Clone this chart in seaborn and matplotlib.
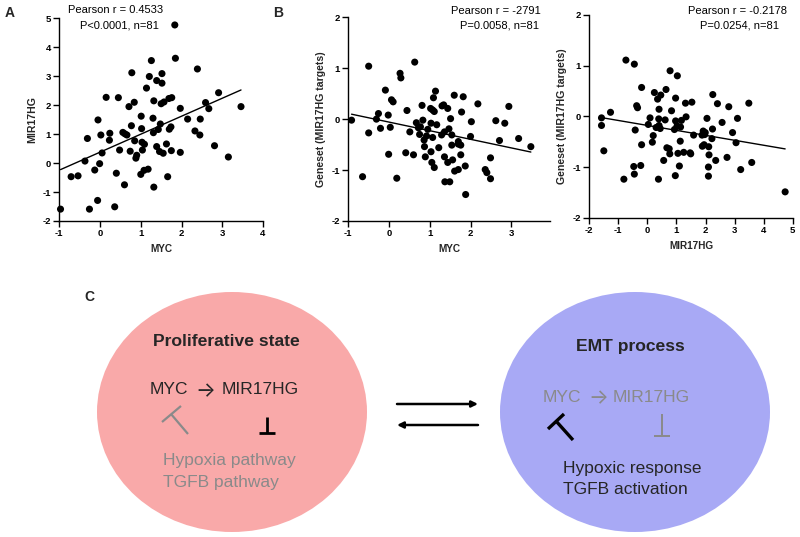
import matplotlib
matplotlib.use("Agg")
import matplotlib.pyplot as plt
from matplotlib.patches import Ellipse
import seaborn as sns
import pandas as pd

# panel A: MYC vs MIR17HG
a_myc = [1.835, 1.26, 1.85, 2.39, 0.78, 1.21, 1.52, 1.39, 1.52, 1.14, 0.15, 0.45, 1.32, 1.50,
         1.57, 1.69, 1.76, 0.84, 0.71, 1.97, 2.91, 2.59, 2.67, 3.46, -0.05, 1.01, 1.30, 2.15,
         2.46, 1.48, 1.74, 1.70, 1.02, 0.77, 0.56, 0.61, 0.66, 0.02, 0.24, -0.31, 0.23, 0.85,
         1.03, 1.09, 1.31, 1.43, 2.33, 2.45, 2.81, 3.15, 1.63, 1.39, 0.48, 0.05, 0.74, 0.90,
         0.88, 1.04, 1.46, 1.55, 1.75, 1.97, -0.01, -0.37, -0.13, 0.40, 1.00, 1.08, 1.18,
         -0.71, -0.54, 1.66, 1.32, 0.60, -0.06, 0.36, -0.26, -0.97]
a_mir = [4.77, 3.54, 3.62, 3.25, 3.12, 2.99, 3.09, 2.85, 2.76, 2.59, 2.27, 2.26, 2.15, 2.05,
         2.11, 2.23, 2.26, 2.10, 1.95, 1.89, 2.43, 2.09, 1.88, 1.95, 1.49, 1.62, 1.55, 1.52,
         1.52, 1.35, 1.25, 1.17, 1.19, 1.29, 1.06, 1.01, 0.97, 0.97, 1.03, 0.85, 0.79, 0.77,
         0.72, 0.65, 1.05, 1.16, 1.11, 0.97, 0.60, 0.21, 0.66, 0.57, 0.45, 0.35, 0.41, 0.27,
         0.17, 0.45, 0.40, 0.34, 0.43, 0.37, -0.02, 0.07, -0.24, -0.35, -0.39, -0.25, -0.21,
         -0.47, -0.44, -0.47, -0.83, -0.75, -1.29, -1.51, -1.59, -1.59]

# panel B: MYC vs geneset score
b_myc = [-0.92, -0.50, -0.50, -0.65, -0.31, -0.26, -0.21, -0.09, -0.02, 0.03, 0.06, 0.10, -0.01,
         0.19, 0.27, 0.29, 0.44, 0.41, 0.51, 0.60, 0.63, 0.67, 0.81, 0.83, 0.72, 0.75, 0.77,
         0.86, 0.87, 0.92, 0.89, 0.95, 1.02, 1.07, 1.09, 1.14, 1.11, 1.03, 1.07, 1.03, 1.05,
         1.11, 1.17, 1.22, 1.29, 1.30, 1.34, 1.36, 1.36, 1.37, 1.44, 1.44, 1.47, 1.49, 1.51,
         1.54, 1.54, 1.56, 1.60, 1.61, 1.70, 1.70, 1.70, 1.76, 1.76, 1.78, 1.82, 1.87, 1.88,
         2.00, 2.02, 2.18, 2.36, 2.40, 2.49, 2.49, 2.62, 2.71, 2.84, 2.94, 3.18, 3.48]
b_gene = [-0.02, 1.04, -0.27, -1.13, 0.00, 0.11, -0.18, 0.57, 0.08, -0.16, 0.38, 0.34, -0.69,
          -1.16, 0.90, 0.81, 0.17, -0.66, -0.25, -0.70, 1.12, -0.07, 0.27, -0.02, -0.17, -0.30,
          -0.15, -0.41, -0.54, -0.33, -0.74, -0.20, 0.21, 0.18, 0.42, 0.55, 0.15, -0.08, -0.36,
          -0.64, -0.85, -0.95, -0.11, -0.56, -0.31, 0.26, 0.28, -0.25, -0.74, -1.23, -0.85,
          0.21, -0.19, -1.23, 0.01, -0.31, -0.51, -0.80, 0.47, -1.02, -0.44, -0.49, -0.99,
          -0.51, -0.70, 0.14, 0.44, -0.92, -1.48, -0.34, -0.05, 0.30, -0.99, -1.05, -1.17,
          -0.76, -0.03, -0.42, -0.08, 0.25, -0.38, -0.54]

# panel C: MIR17HG vs geneset score
c_mir = [-1.58, -1.58, -1.50, -1.27, -0.81, -0.74, -0.45, -0.45, -0.47, -0.42, -0.37, -0.34,
         -0.23, -0.20, -0.20, 0.03, 0.09, 0.17, 0.20, 0.24, 0.30, 0.35, 0.38, 0.40, 0.39, 0.40,
         0.44, 0.46, 0.56, 0.61, 0.64, 0.67, 0.75, 0.77, 0.78, 0.83, 0.93, 0.96, 0.97, 0.97,
         1.02, 1.03, 1.05, 1.10, 1.13, 1.14, 1.17, 1.25, 1.31, 1.33, 1.47, 1.49, 1.53, 1.59,
         1.88, 1.89, 1.92, 1.95, 1.97, 1.99, 2.05, 2.11, 2.12, 2.10, 2.10, 2.22, 2.24, 2.25,
         2.35, 2.41, 2.57, 2.74, 2.80, 2.93, 3.05, 3.10, 3.21, 3.49, 3.59, 4.74]
c_gene = [-0.03, -0.18, -0.68, 0.08, -1.24, 1.11, 1.03, -1.14, -0.99, -0.27, 0.21, 0.17,
          -0.97, 0.57, -0.56, -0.16, -0.03, -0.51, -0.38, 0.47, -0.22, 0.34, -1.24, 0.14,
          -0.05, -0.18, -0.24, 0.42, -0.87, -0.07, 0.53, -0.62, -0.64, -0.74, 0.90, 0.11,
          -0.26, -1.17, 0.36, -0.09, -0.19, 0.80, -0.73, -0.98, -0.49, -0.21, -0.08, -0.71,
          0.26, -0.01, -0.72, -0.74, 0.28, -0.37, -0.37, -0.59, -0.29, -0.56, -0.36, -0.32,
          -0.04, -0.60, -0.76, -1.00, -1.18, -0.44, -0.25, 0.43, -0.87, 0.25, -0.12, -0.81,
          0.19, -0.32, -0.52, -0.04, -1.05, 0.26, -0.91, -1.49]

sns.set_theme(style="ticks")
plt.rcParams['font.family'] = ['Liberation Sans', 'DejaVu Sans']
plt.rcParams['axes.edgecolor'] = 'black'
plt.rcParams['axes.linewidth'] = 1.0

fig = plt.figure(figsize=(8, 5.37), dpi=100)
W, H = 800, 537


def px_axes(left, top, right, bottom):
    return fig.add_axes([left / W, 1 - bottom / H, (right - left) / W, (bottom - top) / H])


def scatter_panel(ax, x, y, xlab, ylab, xlim, ylim, xticks, yticks):
    df = pd.DataFrame({'x': x, 'y': y})
    sns.regplot(data=df, x='x', y='y', ax=ax, scatter=False, ci=None,
                line_kws={'color': 'black', 'lw': 1.0})
    sns.scatterplot(data=df, x='x', y='y', ax=ax, color='black', s=26,
                    edgecolor='none', clip_on=False, zorder=3)
    ax.set_xlim(*xlim)
    ax.set_ylim(*ylim)
    ax.set_xticks(xticks)
    ax.set_yticks(yticks)
    ax.set_xticklabels([str(t) for t in xticks], fontsize=6.8, fontweight='bold')
    ax.set_yticklabels([str(t) for t in yticks], fontsize=6.8, fontweight='bold')
    ax.tick_params(direction='out', length=4, width=1, pad=2, colors='black')
    ax.set_xlabel(xlab, fontsize=7.2, fontweight='bold', labelpad=4)
    ax.set_ylabel(ylab, fontsize=7.6, fontweight='bold', labelpad=4)
    ax.set_facecolor('none')
    sns.despine(ax=ax)


axA = px_axes(59.3, 18.3, 263, 221)
scatter_panel(axA, a_myc, a_mir, 'MYC', 'MIR17HG', (-1, 4), (-2, 5),
              [-1, 0, 1, 2, 3, 4], [-2, -1, 0, 1, 2, 3, 4, 5])
axB = px_axes(348.3, 17.3, 550, 221)
scatter_panel(axB, b_myc, b_gene, 'MYC', 'Geneset (MIR17HG targets)', (-1, 3.95), (-2, 2),
              [-1, 0, 1, 2, 3], [-2, -1, 0, 1, 2])
axC = px_axes(589.3, 15, 792.7, 217.7)
scatter_panel(axC, c_mir, c_gene, 'MIR17HG', 'Geneset (MIR17HG targets)', (-2, 5), (-2, 2),
              [-2, -1, 0, 1, 2, 3, 4, 5], [-2, -1, 0, 1, 2])

# overlay in pixel coordinates for text and the schematic
ov = fig.add_axes([0, 0, 1, 1], zorder=-1)
ov.set_xlim(0, W)
ov.set_ylim(H, 0)
ov.axis('off')

tkw = dict(fontsize=8, color='black', va='center')
ov.text(116, 10, 'Pearson r = 0.4533', ha='center', **tkw)
ov.text(119.5, 25, 'P<0.0001, n=81', ha='center', **tkw)
ov.text(541, 10.5, 'Pearson r = -2791', ha='right', **tkw)
ov.text(539, 25, 'P=0.0058, n=81', ha='right', **tkw)
ov.text(738, 10.5, 'Pearson r = -0.2178', ha='center', **tkw)
ov.text(740, 25, 'P=0.0254, n=81', ha='center', **tkw)

lkw = dict(fontsize=10, fontweight='bold', va='center', ha='left')
ov.text(5, 13, 'A', **lkw)
ov.text(273, 13, 'B', **lkw)
ov.text(84, 297, 'C', **lkw)

# schematic
ov.add_patch(Ellipse((232, 412), 270, 240, facecolor='#f9a9a9', edgecolor='none'))
ov.add_patch(Ellipse((635, 412), 270, 240, facecolor='#a8a9f5', edgecolor='none'))

gray = '#8a8a8a'
fs = 12.5
arrow_font = ['Inter', 'DejaVu Sans']
ov.text(226, 341, 'Proliferative state', fontsize=12.6, fontweight='bold', ha='center', va='center')
ov.text(150, 390, 'MYC', fontsize=fs, ha='left', va='center')
ov.text(205, 391, '\u2192', fontsize=15, ha='center', va='center', family=arrow_font)
ov.text(222, 390, 'MIR17HG', fontsize=fs, ha='left', va='center')
ov.plot([162, 181], [422, 406], color=gray, lw=1.6, solid_capstyle='butt')
ov.plot([171, 188], [414, 434], color=gray, lw=1.6, solid_capstyle='butt')
ov.plot([267, 267], [417, 433], color='black', lw=2, solid_capstyle='butt')
ov.plot([259, 275], [433, 433], color='black', lw=2, solid_capstyle='butt')
ov.text(163, 460, 'Hypoxia pathway', fontsize=fs, color=gray, ha='left', va='center')
ov.text(163, 482, 'TGFB pathway', fontsize=fs, color=gray, ha='left', va='center')

ov.text(630, 347, 'EMT process', fontsize=12.6, fontweight='bold', ha='center', va='center')
ov.text(543, 397, 'MYC', fontsize=fs, color=gray, ha='left', va='center')
ov.text(598, 398, '\u2192', fontsize=15, color=gray, ha='center', va='center', family=arrow_font)
ov.text(613, 397, 'MIR17HG', fontsize=fs, color=gray, ha='left', va='center')
ov.plot([548, 564], [429, 414], color='black', lw=2.4, solid_capstyle='butt')
ov.plot([556, 573], [421, 440], color='black', lw=2.4, solid_capstyle='butt')
ov.plot([662, 662], [414, 436], color=gray, lw=1.4, solid_capstyle='butt')
ov.plot([654, 670], [436, 436], color=gray, lw=1.4, solid_capstyle='butt')
ov.text(563, 468, 'Hypoxic response', fontsize=fs, ha='left', va='center')
ov.text(563, 489, 'TGFB activation', fontsize=fs, ha='left', va='center')

akw = dict(arrowstyle='-|>', color='black', lw=1.8, mutation_scale=9, shrinkA=0, shrinkB=0)
ov.annotate('', xy=(478, 404), xytext=(397, 404), arrowprops=akw)
ov.annotate('', xy=(397, 425), xytext=(478, 425), arrowprops=akw)

fig.savefig('out.png', dpi=100)
